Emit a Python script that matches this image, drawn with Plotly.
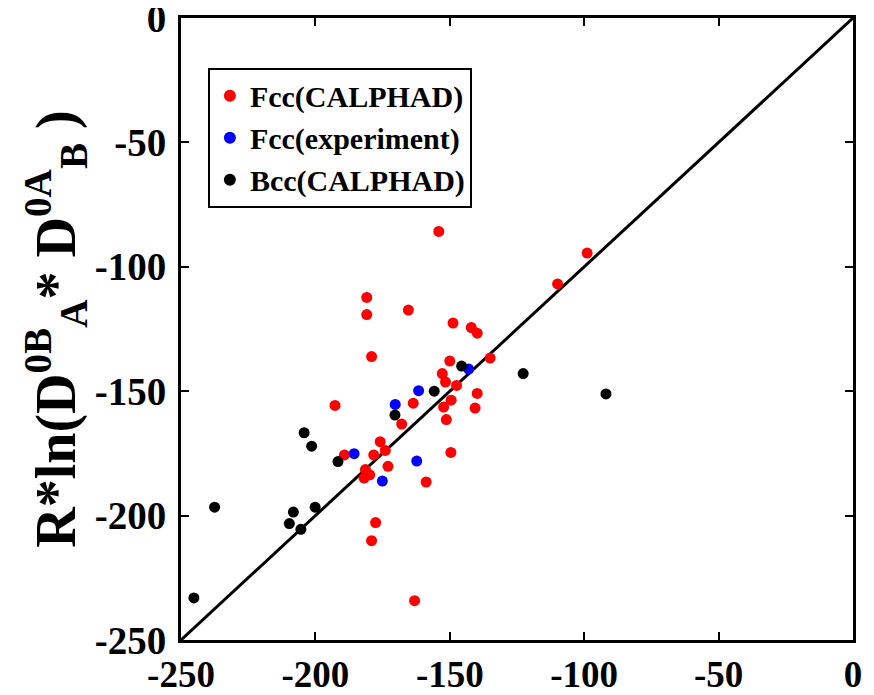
import plotly.graph_objects as go

# Fcc (CALPHAD)
fcc_cal_x = [-154.1, -98.9, -109.9, -180.9, -180.9, -165.4, -148.8, -142.0, -139.8, -179.1,
             -135.0, -150.0, -152.8, -151.6, -147.5, -139.8, -149.5, -152.3, -140.6, -163.6,
             -192.7, -151.3, -167.9, -175.9, -174.0, -178.3, -189.2, -149.6, -173.0, -181.4,
             -179.8, -181.9, -158.8, -177.6, -179.1, -163.1]
fcc_cal_y = [-85.8, -94.5, -106.9, -112.3, -119.2, -117.4, -122.6, -124.4, -126.7, -136.1,
             -136.7, -137.9, -142.9, -146.3, -147.7, -150.9, -153.6, -156.4, -156.8, -154.8,
             -155.7, -161.4, -163.2, -170.3, -173.8, -175.6, -175.6, -174.6, -180.2, -181.5,
             -183.6, -184.9, -186.5, -202.8, -210.1, -234.2]

# Fcc (experiment)
fcc_exp_x = [-143.0, -161.6, -170.3, -185.6, -162.3, -175.1]
fcc_exp_y = [-141.1, -149.8, -155.3, -175.1, -178.1, -186.1]

# Bcc (CALPHAD)
bcc_cal_x = [-145.6, -122.7, -91.9, -155.8, -170.4, -204.2, -201.4, -191.6, -237.5, -200.1,
             -208.2, -209.7, -205.4, -245.2]
bcc_cal_y = [-139.9, -142.9, -151.1, -150.0, -159.6, -166.7, -172.1, -178.3, -196.6, -196.6,
             -198.6, -203.2, -205.5, -233.1]

diag = [-250, 0]
tick_vals = [-250, -200, -150, -100, -50, 0]
tick_text = ["-250", "-200", "-150", "-100", "-50", "0"]

FONT = "Liberation Serif"

fig = go.Figure()
fig.add_trace(go.Scatter(x=diag, y=diag, mode="lines", line=dict(color="black", width=3),
                         showlegend=False, hoverinfo="skip"))
fig.add_trace(go.Scatter(x=fcc_cal_x, y=fcc_cal_y, mode="markers", name="Fcc(CALPHAD)",
                         marker=dict(color="#ff0000", size=11)))
fig.add_trace(go.Scatter(x=fcc_exp_x, y=fcc_exp_y, mode="markers", name="Fcc(experiment)",
                         marker=dict(color="#0000ff", size=11)))
fig.add_trace(go.Scatter(x=bcc_cal_x, y=bcc_cal_y, mode="markers", name="Bcc(CALPHAD)",
                         marker=dict(color="#000000", size=11)))

axis_common = dict(
    showgrid=False, zeroline=False, showline=True, linecolor="black", linewidth=3,
    mirror="ticks", ticks="inside", ticklen=8, tickwidth=2, tickcolor="black",
    tickmode="array", tickvals=tick_vals, ticktext=tick_text,
    automargin=False, ticklabeloverflow="allow",
)

# page body has an 8px default margin, so the figure is offset by 8px
fig.update_layout(
    width=866, height=687,
    paper_bgcolor="white", plot_bgcolor="white",
    margin=dict(l=173, r=21, t=10, b=55),
    xaxis=dict(range=[-250, 0], ticklabelstandoff=0,
               tickfont=dict(family=FONT, size=37, color="black", weight="bold"),
               **axis_common),
    yaxis=dict(range=[-250, 0], ticklabelstandoff=4,
               tickfont=dict(family=FONT, size=39, color="black", weight="bold"),
               title=dict(text="R*ln(D<sup>0B</sup><sub>A</sub>* D<sup>0A</sup><sub>B</sub> )",
                          font=dict(family=FONT, size=56, color="black", weight="bold"),
                          standoff=0),
               **axis_common),
    legend=dict(x=0.04, y=0.92, xanchor="left", yanchor="top",
                bgcolor="white", bordercolor="black", borderwidth=2,
                font=dict(family=FONT, size=30, color="black", weight="bold"),
                itemsizing="constant", tracegroupgap=0),
    showlegend=True,
)

fig.write_html("out.html")
